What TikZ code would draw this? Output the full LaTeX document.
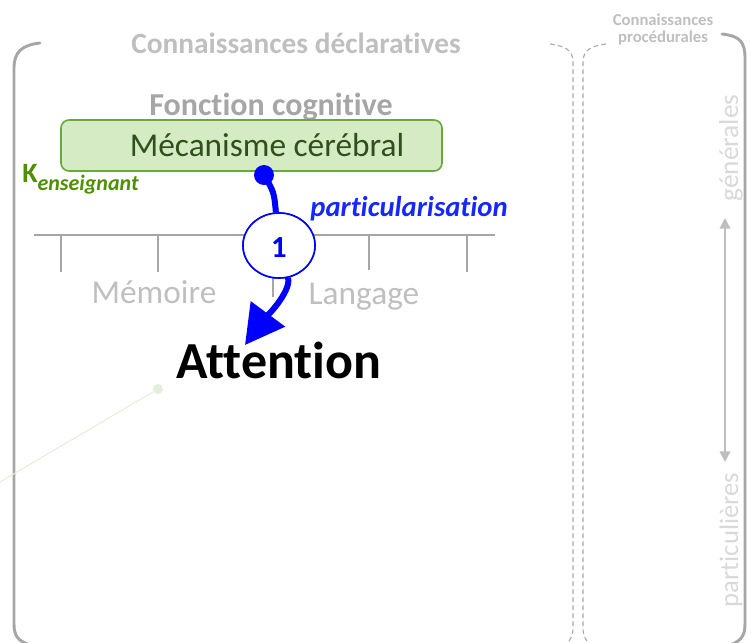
\documentclass[tikz,border=0pt]{standalone}
\usepackage{fontspec}
\setmainfont{Carlito}[Ligatures={NoCommon}]
\usetikzlibrary{arrows.meta,shapes.geometric}
\definecolor{brk}{HTML}{A6A6A6}
\definecolor{lgray}{HTML}{BFBFBF}
\definecolor{vlgray}{HTML}{D9D9D9}
\definecolor{fgray}{HTML}{A6A6A6}
\definecolor{boxfill}{HTML}{D5EBC3}
\definecolor{boxdraw}{HTML}{6AA83A}
\definecolor{boxtext}{HTML}{2F4F1C}
\definecolor{kgreen}{HTML}{4E9000}
\definecolor{pblue}{RGB}{0,0,255}
\definecolor{tblue}{RGB}{20,40,255}
\definecolor{pale}{HTML}{E2EFDA}
\tikzset{
  bracket/.style={draw=brk, line width=2.2pt, line cap=round},
  dashline/.style={draw=brk, line width=0.8pt, dash pattern=on 3.5pt off 2.5pt},
  scaleline/.style={draw=brk, line width=1.1pt},
  txt/.style={inner sep=0pt, anchor=base},
  blueline/.style={draw=pblue, line width=4.5pt},
}
\begin{document}
\begin{tikzpicture}[x=0.75pt,y=-0.75pt]
\useasboundingbox (0,0) rectangle (751,643);
\clip (0,0) rectangle (751,643);
% brackets
\draw[bracket] (40,43) .. controls (22,45) and (14,52) .. (14,68) -- (14,624) .. controls (14,636) and (18,641) .. (30,645);
\draw[bracket] (722,34) .. controls (740,36) and (745,42) .. (745,58) -- (745,624) .. controls (745,636) and (741,641) .. (730,645);
% dashed middle brace
\draw[dashline] (550,44) .. controls (565,46) and (573,50) .. (573,62) -- (573,628) .. controls (573,636) and (570,640) .. (566,645);
\draw[dashline] (606,44) .. controls (591,46) and (583,50) .. (583,62) -- (583,628) .. controls (583,636) and (586,640) .. (590,645);
% titles
\node[txt, text=lgray, font=\fontsize{22}{22}\selectfont\bfseries] (decl) at (296,53) {Connaissances déclaratives};
\node[txt, text=lgray, font=\fontsize{12.5}{13.5}\selectfont\bfseries] (proc1) at (663,25) {Connaissances};
\node[txt, text=lgray, font=\fontsize{12.5}{13.5}\selectfont\bfseries] (proc2) at (663,42) {procédurales};
\node[txt, text=fgray, font=\fontsize{24}{24}\selectfont\bfseries] (fonc) at (271,115) {Fonction cognitive};
% scale
\draw[scaleline] (34,235) coordinate (sl) -- (495,235) coordinate (sr);
\foreach \x/\e in {61/272,158/272,273/297,369/270,467/272}
  \draw[scaleline] (\x,235) -- (\x,\e);
\node[txt, text=lgray, font=\fontsize{25}{25}\selectfont] (mem) at (154,303) {Mémoire};
\node[txt, text=lgray, font=\fontsize{25}{25}\selectfont] (lang) at (364,304) {Langage};
% pale green line
\node[circle, fill=pale, inner sep=0pt, minimum size=7.5pt] (gdot) at (158,389) {};
\coordinate (gend) at (0,482);
\draw[pale, line width=0.8pt] (gdot) -- (gend);
% box
\node[draw=boxdraw, fill=boxfill, line width=1.2pt, rounded corners=6pt, minimum width=285.75pt, minimum height=38.25pt, inner sep=0pt] (box) at (251.5,145.5) {};
\node[txt, text=boxtext, font=\fontsize{25}{25}\selectfont] (mech) at (267,156.5) {Mécanisme cérébral};
% K enseignant
\node[txt, anchor=base west, text=kgreen, font=\bfseries] (k) at (22,182) {{\fontsize{21}{21}\selectfont K}\raisebox{-6pt}{\fontsize{16.5}{16.5}\selectfont\itshape enseignant}};
% blue process
\node[circle, fill=pblue, inner sep=0pt, minimum size=15pt] (bdot) at (264,175) {};
\node[ellipse, draw=pblue, fill=white, line width=1.2pt, minimum width=54pt, minimum height=48.75pt, inner sep=0pt] (c1) at (279,245.5) {};
\draw[blueline] (bdot.center) .. controls (274,192) .. (c1);
\coordinate (tip) at (245,345);
\draw[blueline, -{Triangle[length=29pt,width=31pt]}] (c1) .. controls (292,292) and (262,322) .. (tip);
\node[ellipse, draw=pblue, fill=white, line width=1.2pt, minimum width=54pt, minimum height=48.75pt, inner sep=0pt] (c1b) at (279,245.5) {};
\node[text=pblue, font=\fontsize{23}{23}\selectfont\bfseries, inner sep=0pt] (one) at (279,248) {1};
\node[txt, text=tblue, font=\fontsize{21.5}{21.5}\selectfont\bfseries\itshape] (part) at (409,216) {particularisation};
\node[txt, text=black, font=\fontsize{39}{39}\selectfont\bfseries] (attn) at (279,378) {Attention};
% right side
\node[rotate=90, text=vlgray, font=\fontsize{20.5}{21}\selectfont, inner sep=0pt] (gen) at (731,148) {générales};
\node[rotate=90, text=vlgray, font=\fontsize{20}{21}\selectfont, inner sep=0pt] (parti) at (731,540) {particulières};
\coordinate (ga) at (725,218);
\coordinate (gb) at (725,462);
\draw[draw=lgray, line width=1.1pt, {Triangle[length=8pt,width=8pt]}-{Triangle[length=8pt,width=8pt]}] (ga) -- (gb);
\end{tikzpicture}
\end{document}
